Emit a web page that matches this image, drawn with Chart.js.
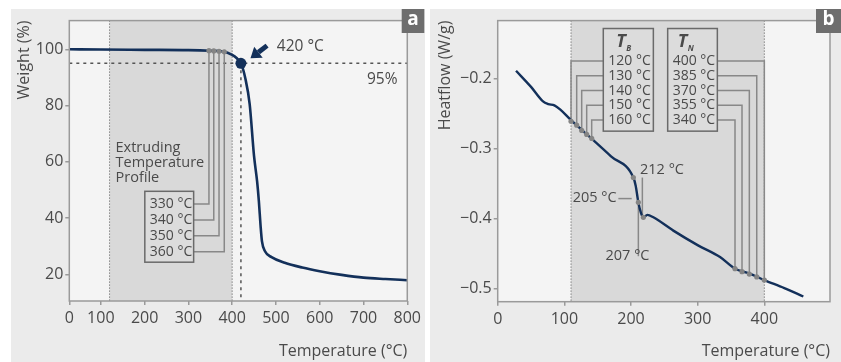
<!DOCTYPE html>
<html>
<head>
<meta charset="utf-8">
<script src="https://cdn.jsdelivr.net/npm/chart.js@4.4.1/dist/chart.umd.min.js"></script>
<style>
  body { margin: 0; background: #fff; width: 841px; height: 362px; position: relative; overflow: hidden; }
  .panel { position: absolute; top: 9px; height: 353px; background: #ebebeb; }
  #panel-a { left: 11px; width: 414px; }
  #panel-b { left: 430px; width: 411px; }
  canvas { display: block; }
</style>
</head>
<body>
<div class="panel" id="panel-a"><canvas id="tga-chart" width="414" height="353"></canvas></div>
<div class="panel" id="panel-b"><canvas id="dsc-chart" width="411" height="353"></canvas></div>
<script>
// ---- panel a : TGA ----
const tgaTemperature = [28, 100, 200, 300, 350, 380, 400, 410, 420, 430, 440, 450, 457, 461, 465, 468, 475, 490, 520, 560, 600, 650, 700, 750, 800];
const tgaWeight = [100, 99.9, 99.8, 99.7, 99.5, 99.2, 98, 96.9, 95, 89.7, 80.5, 62, 53, 46, 37, 31.8, 28.2, 26.1, 24.1, 22.4, 21.1, 19.8, 18.8, 18.3, 17.9];
const profileTemps = [347, 358, 370, 382];
const profileWeights = [99.5, 99.4, 99.3, 99.1];
const profileLabels = ['330 °C', '340 °C', '350 °C', '360 °C'];
const onsetTemp = 420;
const onsetWeight = 95;
const extrudingRange = [120, 400];
const weightTicks = [20, 40, 60, 80, 100];
const tgaTempTicks = [0, 100, 200, 300, 400, 500, 600, 700, 800];
const tgaAxisStart = 28;

// ---- panel b : DSC ----
const dscTemperature = [27.5, 50, 68, 76, 85, 94, 110, 140, 170, 203.5, 207, 211, 215, 218.5, 224.5, 233.5, 263.5, 300.5, 333.5, 356, 377, 400, 430, 458.5];
const dscHeatflow = [-0.189, -0.212, -0.2326, -0.2364, -0.2383, -0.2444, -0.2595, -0.285, -0.311, -0.3413, -0.353, -0.3767, -0.392, -0.398, -0.3945, -0.398, -0.417, -0.438, -0.4547, -0.4713, -0.478, -0.4875, -0.499, -0.511];
const tbTemps = [110, 118.5, 126, 133.5, 141];
const tbHeatflow = [-0.261, -0.2666, -0.274, -0.2798, -0.2855];
const tbLabels = ['120 °C', '130 °C', '140 °C', '150 °C', '160 °C'];
const tnTemps = [400, 388.6, 377.5, 366.5, 356];
const tnHeatflow = [-0.4875, -0.483, -0.479, -0.4755, -0.4713];
const tnLabels = ['400 °C', '385 °C', '370 °C', '355 °C', '340 °C'];
const transitionTemps = [203.5, 211, 218.5];
const transitionHeatflow = [-0.3413, -0.3767, -0.398];
const heatRange = [110, 400];
const heatflowTicks = [-0.5, -0.4, -0.3, -0.2];
const dscTempTicks = [0, 100, 200, 300, 400];

const FONT = "'Open Sans', sans-serif";
const TEXT = '#4a4a4a';
const NAVY = '#13305a';
const GREY_MARK = '#858585';

function toPoints(xs, ys) {
  return xs.map((x, i) => ({ x: x, y: ys[i] }));
}

function strokePath(ctx, pts, color, width, dash) {
  ctx.save();
  ctx.strokeStyle = color;
  ctx.lineWidth = width;
  ctx.setLineDash(dash || []);
  ctx.beginPath();
  pts.forEach((p, i) => (i === 0 ? ctx.moveTo(p[0], p[1]) : ctx.lineTo(p[0], p[1])));
  ctx.stroke();
  ctx.restore();
}

function text(ctx, str, x, y, size, align, weight) {
  ctx.save();
  ctx.fillStyle = TEXT;
  ctx.font = (weight || '') + ' ' + size + 'px ' + FONT;
  ctx.textAlign = align || 'left';
  ctx.textBaseline = 'middle';
  ctx.fillText(str, x, y);
  ctx.restore();
}

function panelTag(ctx, letter, left, width) {
  ctx.save();
  ctx.fillStyle = '#6e6e6e';
  ctx.fillRect(left, 0, width, 24);
  ctx.fillStyle = '#fff';
  ctx.font = 'bold 19px ' + FONT;
  ctx.textAlign = 'center';
  ctx.textBaseline = 'middle';
  ctx.fillText(letter, left + width / 2, 11);
  ctx.restore();
}

function plotBackground(chart, range) {
  const { ctx, chartArea: a, scales: { x } } = chart;
  ctx.save();
  ctx.fillStyle = '#f4f4f4';
  ctx.fillRect(a.left, a.top, a.width, a.height);
  const x0 = x.getPixelForValue(range[0]);
  const x1 = x.getPixelForValue(range[1]);
  ctx.fillStyle = '#d9d9d9';
  ctx.fillRect(x0, a.top, x1 - x0, a.height);
  ctx.restore();
  strokePath(ctx, [[x0, a.top], [x0, a.bottom]], '#555', 1, [1, 2]);
  strokePath(ctx, [[x1, a.top], [x1, a.bottom]], '#555', 1, [1, 2]);
}

function frame(chart) {
  const { ctx, chartArea: a } = chart;
  ctx.save();
  ctx.strokeStyle = '#9a9a9a';
  ctx.lineWidth = 1.5;
  ctx.strokeRect(a.left, a.top, a.width, a.height);
  ctx.restore();
}

function labelBox(ctx, left, top, right, bottom) {
  ctx.save();
  ctx.fillStyle = '#dcdcdc';
  ctx.fillRect(left, top, right - left, bottom - top);
  ctx.strokeStyle = '#6a6a6a';
  ctx.lineWidth = 1.5;
  ctx.strokeRect(left, top, right - left, bottom - top);
  ctx.restore();
}

const tgaDecor = {
  id: 'tgaDecor',
  beforeDatasetsDraw(chart) {
    const { ctx, chartArea: a, scales: { x, y } } = chart;
    plotBackground(chart, extrudingRange);

    // 95 % line and 420 °C line
    const yOnset = y.getPixelForValue(onsetWeight);
    const xOnset = x.getPixelForValue(onsetTemp);
    strokePath(ctx, [[a.left, yOnset], [a.right, yOnset]], '#555', 1.5, [3, 4]);
    strokePath(ctx, [[xOnset, yOnset], [xOnset, a.bottom]], '#555', 1.5, [3, 4]);

    // box with the profile temperatures
    const boxL = x.getPixelForValue(200.5), boxR = x.getPixelForValue(312);
    const boxT = y.getPixelForValue(49.5), boxB = y.getPixelForValue(24.3);
    profileTemps.forEach((t, i) => {
      const px = x.getPixelForValue(t);
      const py = y.getPixelForValue(profileWeights[i]);
      const rowY = boxT + 12.7 + i * 15.9;
      strokePath(ctx, [[px, py], [px, rowY], [boxR, rowY]], '#888', 1.5);
    });
    labelBox(ctx, boxL, boxT, boxR, boxB);
    profileLabels.forEach((lbl, i) => {
      text(ctx, lbl, boxL + 5, boxT + 12.7 + i * 15.9, 14);
    });

    const tx = x.getPixelForValue(133.6);
    ['Extruding', 'Temperature', 'Profile'].forEach((w, i) => {
      text(ctx, w, tx, y.getPixelForValue(65.1) + i * 15.4, 14.5);
    });
  },
  afterDatasetsDraw(chart) {
    const { ctx, scales: { x, y } } = chart;
    // arrow pointing at the onset
    const tip = [x.getPixelForValue(441.9), y.getPixelForValue(96.8)];
    const tail = [x.getPixelForValue(479.7), y.getPixelForValue(101.3)];
    const ang = Math.atan2(tip[1] - tail[1], tip[0] - tail[0]);
    const headLen = 10, headW = 7;
    const base = [tip[0] - headLen * Math.cos(ang), tip[1] - headLen * Math.sin(ang)];
    strokePath(ctx, [tail, base], NAVY, 5);
    ctx.save();
    ctx.fillStyle = NAVY;
    ctx.beginPath();
    ctx.moveTo(tip[0], tip[1]);
    ctx.lineTo(base[0] + headW * Math.sin(ang), base[1] - headW * Math.cos(ang));
    ctx.lineTo(base[0] - headW * Math.sin(ang), base[1] + headW * Math.cos(ang));
    ctx.closePath();
    ctx.fill();
    ctx.restore();

    text(ctx, onsetTemp + ' °C', x.getPixelForValue(502), y.getPixelForValue(100.9), 15.5);
    text(ctx, onsetWeight + '%', x.getPixelForValue(777.7), y.getPixelForValue(89.1), 15.5, 'right');
    frame(chart);
    panelTag(ctx, 'a', 390.7, 22.6);
  }
};

const dscDecor = {
  id: 'dscDecor',
  beforeDatasetsDraw(chart) {
    const { ctx, scales: { x, y } } = chart;
    plotBackground(chart, heatRange);

    const boxT = y.getPixelForValue(-0.1287), boxB = y.getPixelForValue(-0.2751);
    const tbL = x.getPixelForValue(158.4), tbR = x.getPixelForValue(233.5);
    const tnL = x.getPixelForValue(255), tnR = x.getPixelForValue(329.5);
    const rowY = (i) => boxT + 32.6 + i * 14.75;

    tbTemps.forEach((t, i) => {
      const px = x.getPixelForValue(t);
      strokePath(ctx, [[px, y.getPixelForValue(tbHeatflow[i])], [px, rowY(i)], [tbL, rowY(i)]], '#888', 1.5);
    });
    tnTemps.forEach((t, i) => {
      const px = x.getPixelForValue(t);
      strokePath(ctx, [[px, y.getPixelForValue(tnHeatflow[i])], [px, rowY(i)], [tnR, rowY(i)]], '#888', 1.5);
    });

    labelBox(ctx, tbL, boxT, tbR, boxB);
    labelBox(ctx, tnL, boxT, tnR, boxB);
    tbLabels.forEach((lbl, i) => text(ctx, lbl, tbL + 5, rowY(i), 14));
    tnLabels.forEach((lbl, i) => text(ctx, lbl, tnL + 5, rowY(i), 14));

    // T_B and T_N headers
    [['B', tbL + 18], ['N', tnL + 15]].forEach(([sub, hx]) => {
      text(ctx, 'T', hx - 5, boxT + 13.5, 18, 'left', 'italic bold');
      text(ctx, sub, hx + 5, boxT + 20, 8, 'left', 'italic bold');
    });

    // markers round the glass transition
    const xs = transitionTemps.map((t) => x.getPixelForValue(t));
    const ys = transitionHeatflow.map((h) => y.getPixelForValue(h));
    strokePath(ctx, [[x.getPixelForValue(217), ys[0]], [x.getPixelForValue(217), ys[2]]], '#888', 1.5);
    strokePath(ctx, [[x.getPixelForValue(181), y.getPixelForValue(-0.3713)], [x.getPixelForValue(201), y.getPixelForValue(-0.3713)]], '#888', 1.5);
    strokePath(ctx, [[xs[1], ys[1]], [xs[1], y.getPixelForValue(-0.4535)]], '#888', 1.5);
    text(ctx, '212 °C', x.getPixelForValue(213.5), y.getPixelForValue(-0.3304), 14.5);
    text(ctx, '205 °C', x.getPixelForValue(178.5), y.getPixelForValue(-0.3705), 14.5, 'right');
    text(ctx, '207 °C', x.getPixelForValue(194.7), y.getPixelForValue(-0.4537), 14.5, 'center');
  },
  afterDatasetsDraw(chart) {
    frame(chart);
    panelTag(chart.ctx, 'b', 386, 25);
  }
};

function axisStyle(extra) {
  return Object.assign({
    type: 'linear',
    border: { display: false },
    grid: { drawOnChartArea: false, drawTicks: true, tickLength: 4, color: '#9a9a9a', lineWidth: 1.5 },
  }, extra);
}

function tickFont() {
  return { family: FONT, size: 16 };
}

const tgaChart = new Chart(document.getElementById('tga-chart'), {
  type: 'scatter',
  data: {
    datasets: [
      { data: [{ x: onsetTemp, y: onsetWeight }], pointRadius: 5.5, pointBackgroundColor: NAVY, pointBorderWidth: 0 },
      { data: toPoints(profileTemps, profileWeights), pointRadius: 2.6, pointBackgroundColor: GREY_MARK, pointBorderWidth: 0 },
      { data: toPoints(tgaTemperature, tgaWeight), showLine: true, borderColor: NAVY, borderWidth: 2.6, pointRadius: 0, cubicInterpolationMode: 'monotone' }
    ]
  },
  options: {
    responsive: false,
    animation: false,
    devicePixelRatio: 1,
    layout: { padding: { top: 9.7, right: 9.3, left: 0, bottom: 0 } },
    plugins: { legend: { display: false }, tooltip: { enabled: false } },
    scales: {
      x: axisStyle({
        min: tgaAxisStart, max: 800,
        afterBuildTicks: (s) => { s.ticks = tgaTempTicks.map((v) => ({ value: Math.max(v, tgaAxisStart) })); },
        afterFit: (s) => { s.height = 61; },
        ticks: { autoSkip: false, maxRotation: 0, padding: 4, color: TEXT, font: tickFont(), callback: (v, i) => String(tgaTempTicks[i]) },
        title: { display: true, text: 'Temperature (°C)', align: 'end', color: TEXT, font: { family: FONT, size: 16 }, padding: { top: 0, bottom: 1 } }
      }),
      y: axisStyle({
        min: 10.5, max: 110.2,
        afterBuildTicks: (s) => { s.ticks = weightTicks.map((v) => ({ value: v })); },
        afterFit: (s) => { s.width = 58.3; },
        ticks: { padding: 2, color: TEXT, font: tickFont() },
        title: { display: true, text: 'Weight (%)', align: 'end', color: TEXT, font: { family: FONT, size: 16 }, padding: { top: 4, bottom: 0 } }
      })
    }
  },
  plugins: [tgaDecor]
});

const dscChart = new Chart(document.getElementById('dsc-chart'), {
  type: 'scatter',
  data: {
    datasets: [
      { data: toPoints(transitionTemps, transitionHeatflow), pointRadius: 2.6, pointBackgroundColor: GREY_MARK, pointBorderWidth: 0 },
      { data: toPoints(tbTemps, tbHeatflow), pointRadius: 2.6, pointBackgroundColor: GREY_MARK, pointBorderWidth: 0 },
      { data: toPoints(tnTemps, tnHeatflow), pointRadius: 2.6, pointBackgroundColor: GREY_MARK, pointBorderWidth: 0 },
      { data: toPoints(dscTemperature, dscHeatflow), showLine: true, borderColor: NAVY, borderWidth: 2.4, pointRadius: 0, cubicInterpolationMode: 'monotone' }
    ]
  },
  options: {
    responsive: false,
    animation: false,
    devicePixelRatio: 1,
    layout: { padding: { top: 9.7, right: 11, left: 0, bottom: 0 } },
    plugins: { legend: { display: false }, tooltip: { enabled: false } },
    scales: {
      x: axisStyle({
        min: 0, max: 498.5,
        afterBuildTicks: (s) => { s.ticks = dscTempTicks.map((v) => ({ value: v })); },
        afterFit: (s) => { s.height = 60.3; },
        ticks: { autoSkip: false, maxRotation: 0, padding: 4, color: TEXT, font: tickFont() },
        title: { display: true, text: 'Temperature (°C)', align: 'end', color: TEXT, font: { family: FONT, size: 16 }, padding: { top: 0, bottom: 1 } }
      }),
      y: axisStyle({
        min: -0.5184, max: -0.1174,
        afterBuildTicks: (s) => { s.ticks = heatflowTicks.map((v) => ({ value: v })); },
        afterFit: (s) => { s.width = 67.7; },
        ticks: { padding: 2, color: TEXT, font: tickFont(), callback: (v) => (v < 0 ? '\u2212' : '') + Math.abs(v).toFixed(1) },
        title: { display: true, text: 'Heatflow (W/g)', align: 'end', color: TEXT, font: { family: FONT, size: 16 }, padding: { top: 6, bottom: 0 } }
      })
    }
  },
  plugins: [dscDecor]
});
</script>
</body>
</html>
